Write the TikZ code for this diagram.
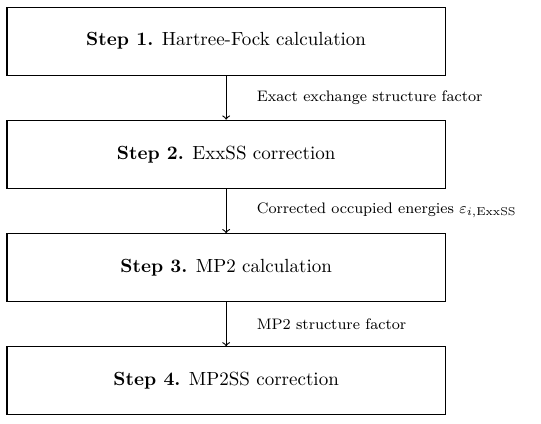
\documentclass[tikz,border=0pt]{standalone}
\begin{document}
\begin{tikzpicture}[semithick]
\useasboundingbox (0,0) rectangle (10,7.82);
\node[draw, minimum width=8.1cm, minimum height=1.257cm] (step1) at (4.18,7.06){\textbf{Step 1.} Hartree-Fock calculation};
\node[draw, minimum width=8.1cm, minimum height=1.257cm] (step2) at (4.18,4.97){\textbf{Step 2.} ExxSS correction};
\node[draw, minimum width=8.1cm, minimum height=1.257cm] (step3) at (4.18,2.87){\textbf{Step 3.} MP2 calculation};
\node[draw, minimum width=8.1cm, minimum height=1.257cm] (step4) at (4.18,0.78){\textbf{Step 4.} MP2SS correction};
\node[anchor=west, font=\footnotesize] (lab1) at (4.62,6.02){Exact exchange structure factor};
\node[anchor=west, font=\footnotesize] (lab2) at (4.62,3.93){Corrected occupied energies $\varepsilon_{i,\mathrm{ExxSS}}$};
\node[anchor=west, font=\footnotesize] (lab3) at (4.62,1.83){MP2 structure factor};
\draw[->](step1) -- (step2);
\draw[->](step2) -- (step3);
\draw[->](step3) -- (step4);
\end{tikzpicture}
\end{document}
